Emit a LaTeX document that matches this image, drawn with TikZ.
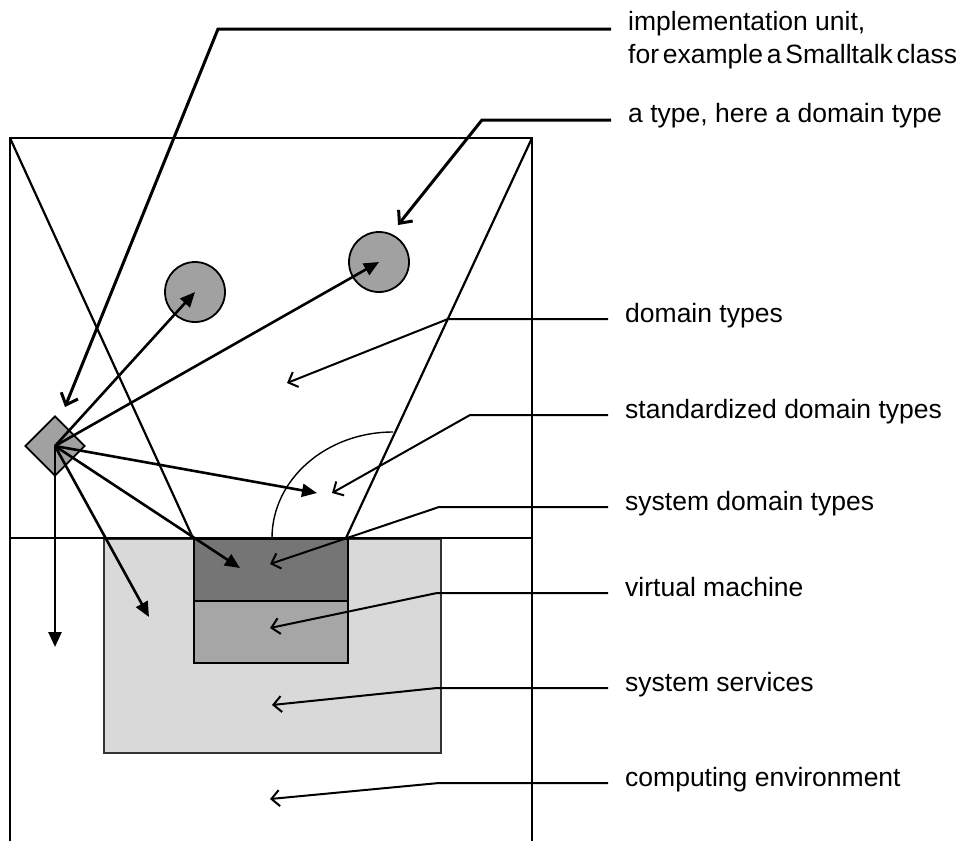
\documentclass[tikz,border=0pt]{standalone}
\usepackage{fontspec}
\setmainfont{Liberation Sans}
\usetikzlibrary{arrows.meta,shapes.geometric}
\definecolor{gcirc}{gray}{0.63}
\definecolor{gdark}{gray}{0.46}
\definecolor{gmid}{gray}{0.65}
\definecolor{glight}{gray}{0.85}
\begin{document}
\begin{tikzpicture}[x=1pt,y=-1pt,
  font=\fontsize{26.5}{32}\selectfont,
  frameline/.style={line width=2.2pt},
  box/.style={draw, line width=1.8pt, inner sep=0pt, anchor=north west},
  lab/.style={anchor=base west, inner sep=0pt},
  lead/.style={line width=2pt, -{Straight Barb[length=8pt,width=16pt]}},
  thicklead/.style={line width=3pt, -{Straight Barb[length=10pt,width=18pt]}},
  ptr/.style={line width=2.6pt, -{Triangle[length=15pt,width=13pt]}},
  blob/.style={draw, line width=1.8pt, fill=gcirc, inner sep=0pt}]
\useasboundingbox (0,0) rectangle (961,841);

% layered boxes
\node[box, fill=glight, draw=black!80, minimum width=337pt, minimum height=214pt] (serv) at (103,538) {};
\node[box, fill=gdark, minimum width=154pt, minimum height=62pt] (sdt) at (193,538) {};
\node[box, fill=gmid, minimum width=154pt, minimum height=62pt] (vm) at (193,600) {};

% frame
\draw[frameline] (10,841) -- (10,138) -- (532,138) -- (532,841);
\draw[frameline] (10,538) -- (532,538);
\draw[frameline] (10,138) -- (193,538);
\draw[frameline] (532,138) -- (346,538);
\draw[line width=1.4pt] (272,538) arc[start angle=180,end angle=90,x radius=121pt,y radius=106pt];

% types and implementation unit
\node[blob, circle, minimum size=60pt] (c1) at (195,292) {};
\node[blob, circle, minimum size=60pt] (c2) at (379,262) {};
\node[blob, diamond, minimum width=60pt, minimum height=60pt] (iu) at (55,446) {};

% targets of the implementation unit
\coordinate (pStd) at (317,493);
\coordinate (pSdt) at (240,568);
\coordinate (pServ) at (149,617);
\coordinate (pEnv) at (55,647);
\draw[ptr] (iu.center) -- (c1.center);
\draw[ptr] (iu.center) -- (c2.center);
\draw[ptr] (iu.center) -- (pStd);
\draw[ptr] (iu.center) -- (pSdt);
\draw[ptr] (iu.center) -- (pServ);
\draw[ptr] (iu.center) -- (pEnv);

% labels
\node[lab] (l1a) at (628,30) {implementation unit,};
\node[lab] (l1b) at (628,63) {\spaceskip=3.8pt plus 1pt for example a Smalltalk class};
\node[lab] (l2) at (628,122) {a type, here a domain type};
\node[lab] (l3) at (625,322) {domain types};
\node[lab] (l4) at (625,418) {standardized domain types};
\node[lab] (l5) at (625,510) {system domain types};
\node[lab] (l6) at (625,596) {virtual machine};
\node[lab] (l7) at (625,691) {system services};
\node[lab] (l8) at (625,786) {computing environment};

% leader start points
\coordinate (s1) at (611,29);
\coordinate (s2) at (611,120);
\coordinate (s3) at (608,319);
\coordinate (s4) at (608,415);
\coordinate (s5) at (608,507);
\coordinate (s6) at (608,593);
\coordinate (s7) at (608,688);
\coordinate (s8) at (608,783);
% leader tips
\coordinate (t1) at (65,407);
\coordinate (t2) at (398,225);
\coordinate (t3) at (287,383);
\coordinate (t4) at (332,493);
\coordinate (t5) at (270,564);
\coordinate (t6) at (270,628);
\coordinate (t7) at (272,705);
\coordinate (t8) at (270,799);

\draw[thicklead] (s1) -- (218,29) -- (t1);
\draw[thicklead] (s2) -- (482,120) -- (t2);
\draw[lead] (s3) -- (448,319) -- (t3);
\draw[lead] (s4) -- (470,415) -- (t4);
\draw[lead] (s5) -- (439,507) -- (t5);
\draw[lead] (s6) -- (437,593) -- (t6);
\draw[lead] (s7) -- (437,688) -- (t7);
\draw[lead] (s8) -- (439,783) -- (t8);
\end{tikzpicture}
\end{document}
